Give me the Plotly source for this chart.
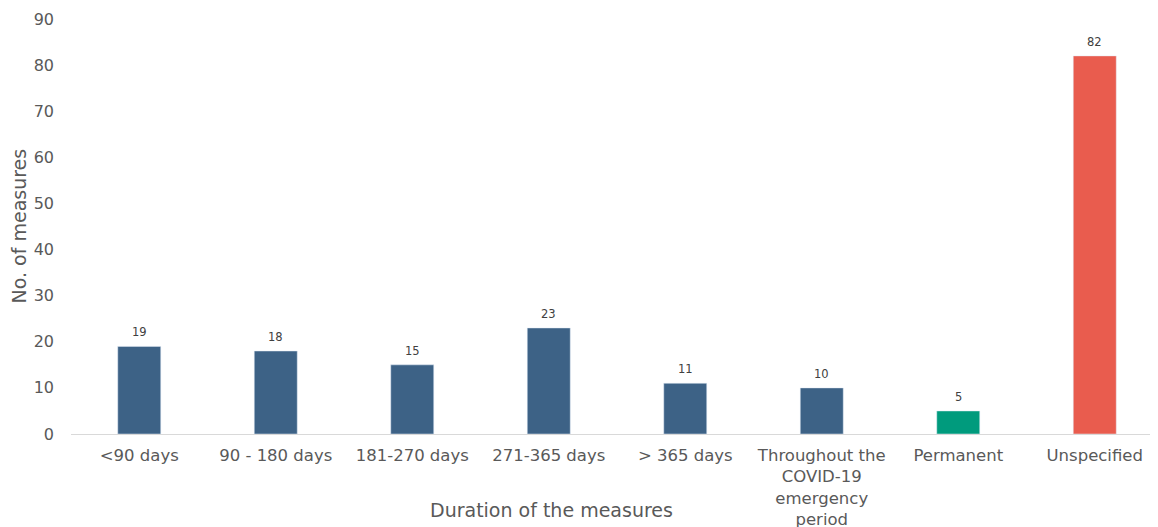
import plotly.graph_objects as go

categories = ["<90 days", "90 - 180 days", "181-270 days", "271-365 days", "> 365 days",
              "Throughout the<br>COVID-19<br>emergency<br>period", "Permanent", "Unspecified"]
values = [19, 18, 15, 23, 11, 10, 5, 82]
colors = ["#3d6286"] * 6 + ["#009b7d", "#e95c4e"]

fig = go.Figure(go.Bar(
    x=categories, y=values, marker_color=colors, width=0.315,
    hoverinfo="x+y",
))

annotations = [
    dict(x=c, y=v, xref="x", yref="y", text=str(v), showarrow=False,
         yanchor="bottom", yshift=5, font=dict(size=11.5, color="#404040"))
    for c, v in zip(categories, values)
]
annotations += [
    dict(text="Duration of the measures", xref="paper", yref="paper", x=0.44, y=0,
         yshift=-76, showarrow=False, xanchor="center", yanchor="middle",
         font=dict(size=19, color="#595959")),
    dict(text="No. of measures", xref="paper", yref="paper", x=0, y=0.5,
         xshift=-53, showarrow=False, textangle=-90, xanchor="center", yanchor="middle",
         font=dict(size=19, color="#595959")),
]

fig.update_layout(
    width=1158, height=527,
    margin=dict(l=63, r=3, t=11, b=101, autoexpand=False),
    paper_bgcolor="white", plot_bgcolor="white",
    font=dict(family="DejaVu Sans", color="#595959"),
    showlegend=False,
    xaxis=dict(
        automargin=False,
        tickfont=dict(size=16.5, color="#595959"),
        showline=True, linecolor="#d9d9d9", linewidth=1, ticks="",
        ticklabelstandoff=6,
    ),
    yaxis=dict(
        automargin=False,
        range=[0, 90], tickvals=list(range(0, 91, 10)), showgrid=False, zeroline=False,
        tickfont=dict(size=16, color="#595959"), ticks="", ticklabelstandoff=16,
    ),
    annotations=annotations,
)
fig.write_html("out.html")
